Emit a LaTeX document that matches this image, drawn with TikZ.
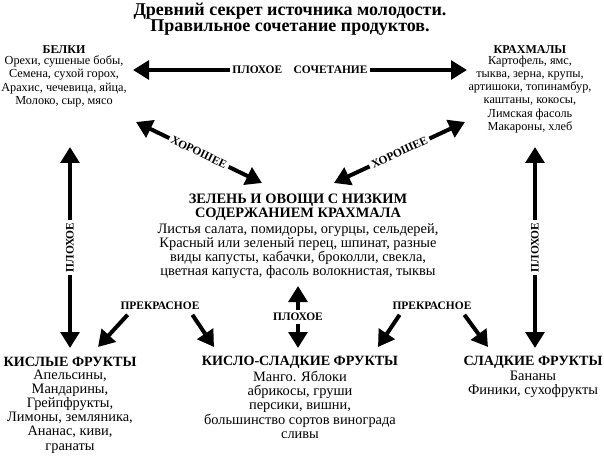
\documentclass[tikz,border=0pt]{standalone}
\usepackage{fontspec}
\setmainfont{Liberation Serif}
\usetikzlibrary{arrows.meta}
\begin{document}
\begin{tikzpicture}[x=0.75pt,y=-0.75pt,
  txt/.style={align=center,font=\fontsize{9.2}{9.9}\selectfont,inner sep=0pt},
  head/.style={align=center,font=\bfseries\fontsize{9}{10}\selectfont,inner sep=0pt},
  midhead/.style={align=center,font=\bfseries\fontsize{10.8}{10.8}\selectfont,inner sep=0pt},
  big/.style={align=center,font=\fontsize{10.8}{10.6}\selectfont,inner sep=0pt},
  bighead/.style={align=center,font=\bfseries\fontsize{10.6}{11}\selectfont,inner sep=0pt},
  ttl/.style={align=center,font=\bfseries\fontsize{13.5}{12}\selectfont,inner sep=0pt},
  lbl/.style={font=\bfseries\fontsize{8.6}{9}\selectfont,fill=white,inner sep=2pt},
  arr/.style={line width=3pt,-{Triangle[width=14pt,length=12pt]}},
  darr/.style={line width=3pt,{Triangle[width=14pt,length=12pt]}-{Triangle[width=14pt,length=12pt]}}]
  \useasboundingbox (0,0) rectangle (604,460);

  % title
  \node[ttl] (title) at (290,19) {Древний секрет источника молодости.\\Правильное сочетание продуктов.};

  % food groups
  \node[head] (belki) at (64,50) {БЕЛКИ};
  \node[txt,below=1pt] (belkit) at (belki.south) {Орехи, сушеные бобы,\\Семена, сухой горох,\\Арахис, чечевица, яйца,\\Молоко, сыр, мясо};
  \node[head] (krahm) at (530,50) {КРАХМАЛЫ};
  \node[txt,below=1pt] (krahmt) at (krahm.south) {Картофель, ямс,\\тыква, зерна, крупы,\\артишоки, топинамбур,\\каштаны, кокосы,\\Лимская фасоль\\Макароны, хлеб};
  \node[midhead] (zelen) at (298,207) {ЗЕЛЕНЬ И ОВОЩИ С НИЗКИМ\\СОДЕРЖАНИЕМ КРАХМАЛА};
  \node[big,below=2pt] (zelent) at (zelen.south) {Листья салата, помидоры, огурцы, сельдерей,\\Красный или зеленый перец, шпинат, разные\\виды капусты, кабачки, броколли, свекла,\\цветная капуста, фасоль волокнистая, тыквы};
  \node[bighead] (kisl) at (70,362) {КИСЛЫЕ ФРУКТЫ};
  \node[big,below=2pt] (kislt) at (kisl.south) {Апельсины,\\Мандарины,\\Грейпфрукты,\\Лимоны, земляника,\\Ананас, киви,\\гранаты};
  \node[bighead] (kislsl) at (300,362) {КИСЛО-СЛАДКИЕ ФРУКТЫ};
  \node[big,below=2pt] (kislslt) at (kislsl.south) {Манго. Яблоки\\абрикосы, груши\\персики, вишни,\\большинство сортов винограда\\сливы};
  \node[bighead] (sladk) at (533,362) {СЛАДКИЕ ФРУКТЫ};
  \node[big,below=2pt] (sladkt) at (sladk.south) {Бананы\\Финики, сухофрукты};

  % arrow ends
  \coordinate (bk1) at (133,70);   \coordinate (bk2) at (467,70);
  \coordinate (bz1) at (136,122);  \coordinate (bz2) at (262,183);
  \coordinate (kz1) at (465,122);  \coordinate (kz2) at (334,183);
  \coordinate (bs1) at (70,147);   \coordinate (bs2) at (70,348);
  \coordinate (ks1) at (535,147);  \coordinate (ks2) at (535,348);
  \coordinate (zk1) at (298,286);  \coordinate (zk2) at (298,348);
  \coordinate (pl) at (160,306);   \coordinate (pr) at (432,306);

  \draw[darr] (bk1) -- node[lbl] {ПЛОХОЕ\quad СОЧЕТАНИЕ} (bk2);
  \draw[darr] (bz1) -- node[lbl,sloped] {ХОРОШЕЕ} (bz2);
  \draw[darr] (kz2) -- node[lbl,sloped] {ХОРОШЕЕ} (kz1);
  \draw[darr] (bs2) -- node[lbl,sloped] {ПЛОХОЕ} (bs1);
  \draw[darr] (ks2) -- node[lbl,sloped] {ПЛОХОЕ} (ks1);
  \draw[darr] (zk1) -- node[lbl] {ПЛОХОЕ} (zk2);

  \node[lbl] (plab) at (pl) {ПРЕКРАСНОЕ};
  \node[lbl] (prab) at (pr) {ПРЕКРАСНОЕ};
  \draw[arr] (plab.south west) ++(10,2) coordinate (a1) -- (98,347);
  \draw[arr] (plab.south east) ++(-10,2) coordinate (a2) -- (214,347);
  \draw[arr] (prab.south west) ++(10,2) coordinate (a3) -- (378,347);
  \draw[arr] (prab.south east) ++(-10,2) coordinate (a4) -- (488,347);
\end{tikzpicture}
\end{document}
